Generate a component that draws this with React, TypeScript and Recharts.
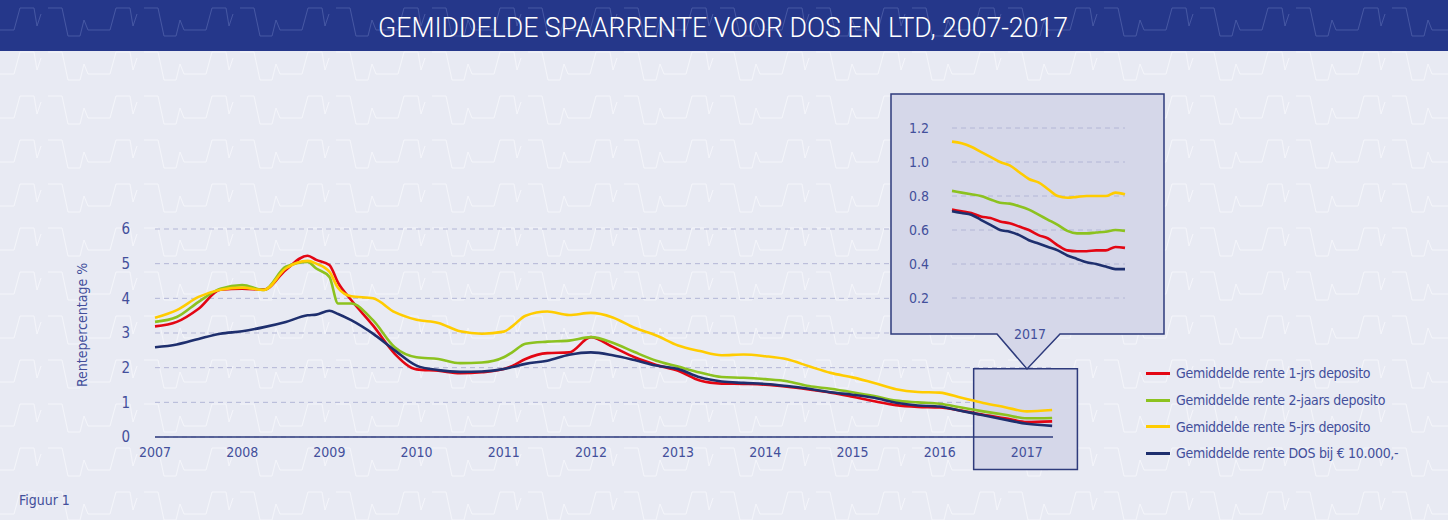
import { LineChart, Line, XAxis, YAxis, CartesianGrid, ReferenceArea } from "recharts";

const years = [
  2007, 2007.25, 2007.5, 2007.75, 2008, 2008.25, 2008.5, 2008.75, 2008.85, 2009, 2009.1,
  2009.25, 2009.5, 2009.75, 2010, 2010.25, 2010.5, 2010.75, 2011, 2011.1, 2011.25, 2011.5,
  2011.75, 2012, 2012.25, 2012.5, 2012.75, 2013, 2013.25, 2013.5, 2013.75, 2014, 2014.25,
  2014.5, 2014.75, 2015, 2015.25, 2015.5, 2015.75, 2016, 2016.25, 2016.5, 2016.75, 2017, 2017.29,
];
const rente1jr = [
  3.19, 3.32, 3.7, 4.25, 4.28, 4.25, 4.82, 5.23, 5.11, 4.96, 4.45,
  3.95, 3.22, 2.4, 1.95, 1.91, 1.84, 1.87, 1.96, 2.05, 2.25, 2.42,
  2.44, 2.88, 2.6, 2.3, 2.08, 1.91, 1.63, 1.54, 1.53, 1.51, 1.45,
  1.37, 1.28, 1.16, 1.03, 0.92, 0.87, 0.85, 0.76, 0.64, 0.54, 0.43, 0.45,
];
const rente2jr = [
  3.32, 3.46, 3.9, 4.28, 4.38, 4.24, 4.91, 5.05, 4.86, 4.62, 3.85,
  3.85, 3.37, 2.59, 2.3, 2.25, 2.13, 2.15, 2.3, 2.45, 2.69, 2.75,
  2.78, 2.88, 2.72, 2.45, 2.2, 2.03, 1.86, 1.73, 1.71, 1.67, 1.61,
  1.47, 1.39, 1.29, 1.18, 1.05, 1.0, 0.96, 0.85, 0.74, 0.64, 0.54, 0.55,
];
const rente5jr = [
  3.44, 3.66, 4.04, 4.25, 4.31, 4.24, 4.86, 5.08, 5.0, 4.77, 4.3,
  4.06, 4.0, 3.6, 3.38, 3.29, 3.05, 2.98, 3.04, 3.2, 3.5, 3.62,
  3.52, 3.58, 3.45, 3.15, 2.93, 2.64, 2.48, 2.36, 2.38, 2.33, 2.24,
  2.04, 1.85, 1.72, 1.56, 1.38, 1.3, 1.28, 1.13, 0.98, 0.86, 0.74, 0.78,
];
const renteDos = [
  2.59, 2.67, 2.83, 2.98, 3.05, 3.17, 3.32, 3.51, 3.53, 3.64, 3.55,
  3.37, 2.98, 2.5, 2.06, 1.93, 1.88, 1.89, 1.96, 2.02, 2.11, 2.2,
  2.37, 2.44, 2.36, 2.22, 2.06, 1.96, 1.72, 1.6, 1.56, 1.53, 1.47,
  1.39, 1.29, 1.22, 1.13, 0.99, 0.91, 0.88, 0.75, 0.63, 0.5, 0.38, 0.32,
];
const yearTicks = [2007, 2008, 2009, 2010, 2011, 2012, 2013, 2014, 2015, 2016, 2017];
const mainTicks = [0, 1, 2, 3, 4, 5, 6];

// uitvergroting 2017
const insetSteps = [0, 1, 2, 3, 4, 5, 6, 7, 8, 9, 10, 11, 12, 13, 14, 15, 16, 17, 18];
const inset1jr = [0.72, 0.71, 0.7, 0.68, 0.67, 0.65, 0.64, 0.62, 0.6, 0.57, 0.55, 0.51, 0.48, 0.475, 0.475, 0.48, 0.48, 0.5, 0.495];
const inset2jr = [0.83, 0.82, 0.81, 0.8, 0.78, 0.76, 0.755, 0.74, 0.72, 0.69, 0.66, 0.63, 0.595, 0.58, 0.58, 0.585, 0.59, 0.6, 0.595];
const inset5jr = [1.12, 1.11, 1.09, 1.06, 1.03, 1.0, 0.98, 0.94, 0.9, 0.88, 0.84, 0.8, 0.79, 0.795, 0.8, 0.8, 0.8, 0.82, 0.81];
const insetDos = [0.71, 0.7, 0.69, 0.66, 0.63, 0.6, 0.59, 0.57, 0.54, 0.52, 0.5, 0.48, 0.45, 0.43, 0.41, 0.4, 0.385, 0.37, 0.37];
const insetTicks = [0.2, 0.4, 0.6, 0.8, 1.0, 1.2];

const series = [
  { key: "r1", name: "Gemiddelde rente 1-jrs deposito", color: "#e30613" },
  { key: "r2", name: "Gemiddelde rente 2-jaars deposito", color: "#8cc21f" },
  { key: "r5", name: "Gemiddelde rente 5-jrs deposito", color: "#ffcc00" },
  { key: "dos", name: "Gemiddelde rente DOS bij € 10.000,-", color: "#1e2f6e" },
];

const mainData = years.map((t, i) => ({
  t,
  r1: rente1jr[i],
  r2: rente2jr[i],
  r5: rente5jr[i],
  dos: renteDos[i],
}));

const insetData = insetSteps.map((t, i) => ({
  t,
  r1: inset1jr[i],
  r2: inset2jr[i],
  r5: inset5jr[i],
  dos: insetDos[i],
}));

const FONT = '"DejaVu Sans Condensed", "Liberation Sans Narrow", sans-serif';
const TEXT = "#434f9b";
const GRID = "#b3b6d6";
const BOX = "#d5d7e9";
const EDGE = "#2e3b7c";

function Pattern({ id, stroke }: { id: string; stroke: string }) {
  return (
    <pattern id={id} width="96" height="44" patternUnits="userSpaceOnUse">
      <path d="M0,30 H14 L20,8 H34 L37,26 L41,14" fill="none" stroke={stroke} strokeWidth="1" />
      <path d="M48,8 H62 L68,36 H80 L84,20 L88,30 H96" fill="none" stroke={stroke} strokeWidth="1" />
    </pattern>
  );
}

export default function App() {
  return (
    <div style={{ position: "relative", width: 1448, height: 520, background: "#e8eaf3", overflow: "hidden", fontFamily: FONT }}>
      <style>{`body{margin:0}`}</style>

      <svg width={1448} height={520} style={{ position: "absolute", left: 0, top: 0 }}>
        <defs>
          <Pattern id="bgPat" stroke="#f4f5fa" />
          <Pattern id="hdPat" stroke="#4657a3" />
        </defs>
        <rect x={0} y={0} width={1448} height={520} fill="url(#bgPat)" />
        <rect x={0} y={0} width={1448} height={51} fill="#25378a" />
        <rect x={0} y={0} width={1448} height={51} fill="url(#hdPat)" />
        <text
          x={378}
          y={37}
          textLength={690}
          lengthAdjust="spacingAndGlyphs"
          fill="#ffffff"
          fontSize={27}
          fontWeight={300}
          fontFamily='Roboto, "DejaVu Sans Condensed", sans-serif'
        >
          GEMIDDELDE SPAARRENTE VOOR DOS EN LTD, 2007-2017
        </text>
        <text x={19} y={505} fill={TEXT} fontSize={14} fontFamily={FONT}>
          Figuur 1
        </text>
        <text
          x={0}
          y={0}
          transform="translate(87 325) rotate(-90)"
          textAnchor="middle"
          fill={TEXT}
          fontSize={14}
          fontFamily={FONT}
        >
          Rentepercentage %
        </text>
      </svg>

      <div style={{ position: "absolute", left: 0, top: 0 }}>
        <LineChart
          width={1448}
          height={520}
          data={mainData}
          margin={{ top: 229, left: 115, right: 395, bottom: 53 }}
        >
          <CartesianGrid horizontal vertical={false} stroke={GRID} strokeDasharray="5 4" />
          <ReferenceArea
            x1={2016.39}
            x2={2017.58}
            y1={-0.94}
            y2={1.97}
            ifOverflow="visible"
            fill={BOX}
            fillOpacity={1}
            stroke={EDGE}
            strokeWidth={1.5}
          />
          <XAxis
            dataKey="t"
            type="number"
            domain={[2007, 2017.3]}
            ticks={yearTicks}
            tickLine={false}
            axisLine={{ stroke: EDGE, strokeWidth: 1.5 }}
            tick={{ fill: TEXT, fontSize: 14, fontFamily: FONT }}
            tickMargin={4}
            height={30}
          />
          <YAxis
            type="number"
            domain={[0, 6]}
            ticks={mainTicks}
            width={40}
            tickLine={false}
            axisLine={false}
            tick={{ fill: TEXT, fontSize: 15, fontFamily: FONT }}
            tickMargin={19}
          />
          {series.map((s) => (
            <Line
              key={s.key}
              dataKey={s.key}
              type="monotone"
              stroke={s.color}
              strokeWidth={2.6}
              dot={false}
              isAnimationActive={false}
            />
          ))}
        </LineChart>
      </div>

      <svg width={1448} height={520} style={{ position: "absolute", left: 0, top: 0, pointerEvents: "none" }}>
        <path
          d="M891,94 H1164 V334 H1060 L1027,369 L997,334 H891 Z"
          fill={BOX}
          stroke={EDGE}
          strokeWidth={1.5}
        />
        <text x={1030} y={339} textAnchor="middle" fill={TEXT} fontSize={14} fontFamily={FONT}>
          2017
        </text>
      </svg>

      <div style={{ position: "absolute", left: 891, top: 94 }}>
        <LineChart
          width={270}
          height={240}
          data={insetData}
          margin={{ top: 34, left: 25, right: 36, bottom: 36 }}
        >
          <CartesianGrid horizontal vertical={false} stroke={GRID} strokeDasharray="5 4" />
          <XAxis dataKey="t" type="number" domain={[0, 18]} hide />
          <YAxis
            type="number"
            domain={[0.2, 1.2]}
            ticks={insetTicks}
            width={36}
            tickLine={false}
            axisLine={false}
            tickFormatter={(v: number) => v.toFixed(1)}
            tick={{ fill: TEXT, fontSize: 14, fontFamily: FONT }}
            tickMargin={17}
          />
          {series.map((s) => (
            <Line
              key={s.key}
              dataKey={s.key}
              type="monotone"
              stroke={s.color}
              strokeWidth={2.6}
              dot={false}
              isAnimationActive={false}
            />
          ))}
        </LineChart>
      </div>

      <div style={{ position: "absolute", left: 1146, top: 360 }}>
        {series.map((s) => (
          <div key={s.key} style={{ display: "flex", alignItems: "center", height: 26.7 }}>
            <span style={{ width: 24, height: 3, background: s.color, marginRight: 6, display: "inline-block" }} />
            <span style={{ color: TEXT, fontSize: 14, letterSpacing: -0.3, whiteSpace: "nowrap" }}>{s.name}</span>
          </div>
        ))}
      </div>
    </div>
  );
}
